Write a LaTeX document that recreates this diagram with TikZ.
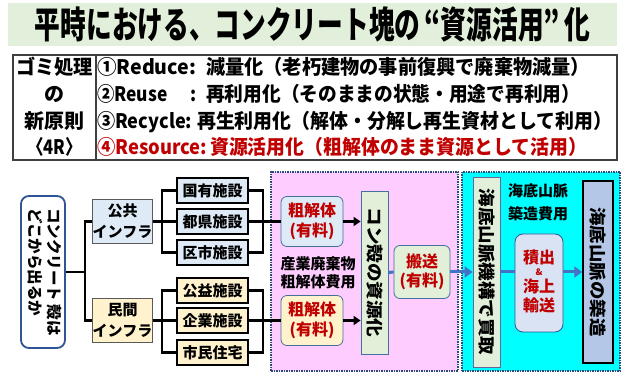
\documentclass[tikz,border=0pt]{standalone}
\usepackage{fontspec}
\setmainfont{Noto Sans CJK JP}
\usetikzlibrary{arrows.meta}
\newcommand{\fitto}[2]{\resizebox{#1}{\height}{#2}}
\definecolor{titlegreen}{HTML}{E2EFDA}
\definecolor{lblue}{HTML}{DEEBF7}
\definecolor{lyellow}{HTML}{FFF2CC}
\definecolor{lgreen}{HTML}{E2F0D9}
\definecolor{pinkbg}{HTML}{FFCCFF}
\definecolor{cyanbg}{HTML}{00FFFF}
\definecolor{darkblue}{HTML}{2F5597}
\definecolor{midblue}{HTML}{4472C4}
\definecolor{bordblue}{HTML}{41719C}
\definecolor{redtxt}{HTML}{C00000}
\definecolor{steel}{HTML}{B4C7E7}
\definecolor{paleblue}{HTML}{DAE3F3}
\definecolor{dotblue}{HTML}{2E4A7D}
\definecolor{tabgray}{HTML}{404040}
\begin{document}
\begin{tikzpicture}[x=1pt,y=-1pt,
  tabtxt/.style={inner sep=0, font=\fontsize{20}{20}\selectfont\bfseries},
  fac/.style={draw=black, line width=1.3pt, minimum width=71pt, minimum height=25pt, inner sep=0, font=\fontsize{15}{15}\selectfont\bfseries},
  infra/.style={draw=gray!70!black, line width=0.8pt, minimum width=53pt, minimum height=44pt, inner sep=0, align=center, font=\fontsize{15}{21}\selectfont\bfseries},
  rbox/.style={rounded corners=6pt, draw=bordblue, line width=0.8pt, inner sep=0, align=center, text=redtxt, font=\fontsize{16}{20}\selectfont\bfseries},
  col/.style={draw=bordblue, line width=0.8pt, inner sep=0, font=\fontsize{17}{17}\selectfont\bfseries},
  region/.style={draw=dotblue, densely dotted, line width=1.5pt, inner sep=0},
  tree/.style={line width=2.6pt, black},
  blkarrow/.style={line width=2.6pt, black, -{Triangle[length=7pt,width=9pt]}},
  bline/.style={line width=3pt, midblue},
  barrow/.style={bline, -{Triangle[length=8pt,width=11pt]}},
  lbl/.style={inner sep=0, align=center, font=\fontsize{15}{18}\selectfont\bfseries}
]
\useasboundingbox (0,0) rectangle (625,374);
\fill[white] (0,0) rectangle (625,374);

% title
\node[fill=titlegreen, minimum width=609pt, minimum height=43pt, inner sep=0,
  font=\fontsize{37}{37}\selectfont\bfseries] (title) at (312.5,25)
  {\fitto{555pt}{平時における、コンクリート塊の\,“資源活用”\,化}};

% table
\node[draw=tabgray, line width=1.2pt, fill=white, minimum width=604pt, minimum height=105pt, inner sep=0] (table) at (315,107.5) {};
\coordinate (dtop) at (96,55);
\coordinate (dbot) at (96,160);
\draw[tabgray, line width=1.2pt] (dtop) -- (dbot);

\node[tabtxt, anchor=base] (l1) at (54.5,74.5) {\fitto{77pt}{ゴミ処理}};
\node[tabtxt, anchor=base] (l2) at (54.5,101.5) {の};
\node[tabtxt, anchor=base] (l3) at (54.5,128.5) {新原則};
\node[tabtxt, anchor=base] (l4) at (54.5,154.5) {\fitto{55pt}{〈4R〉}};

\node[tabtxt, anchor=base west] (p1) at (97,74.5) {\fitto{99pt}{①Reduce:}};
\node[tabtxt, anchor=base west] (t1) at (206,74.5) {\fitto{384pt}{減量化（老朽建物の事前復興で廃棄物減量）}};
\node[tabtxt, anchor=base west] (p2) at (97,101.5) {\fitto{99pt}{②Reuse\hspace{1.3em}:}};
\node[tabtxt, anchor=base west] (t2) at (206,101.5) {\fitto{374pt}{再利用化（そのままの状態・用途で再利用）}};
\node[tabtxt, anchor=base west] (p3) at (97,128.5) {\fitto{95pt}{③Recycle:}};
\node[tabtxt, anchor=base west] (t3) at (197,128.5) {\fitto{415pt}{再生利用化（解体・分解し再生資材として利用）}};
\node[tabtxt, anchor=base west, text=redtxt] (p4) at (97,154.5) {\fitto{110pt}{④Resource:}};
\node[tabtxt, anchor=base west, text=redtxt] (t4) at (210,154.5) {\fitto{377pt}{資源活用化（粗解体のまま資源として活用）}};

% regions
\node[region, fill=pinkbg, minimum width=187pt, minimum height=199pt] (pinkreg) at (364.5,271.5) {};
\node[region, fill=cyanbg, minimum width=158pt, minimum height=199pt] (cyanreg) at (541,271.5) {};

% source
\node[draw=darkblue, line width=1.8pt, rounded corners=8pt, fill=white, minimum width=44pt, minimum height=152pt, inner sep=0,
  font=\fontsize{15.5}{20}\selectfont\bfseries] (src) at (43,272)
  {\rotatebox{-90}{\begin{tabular}{@{}l@{}}コンクリート 殻は\\どこから出るか\end{tabular}}};

\node[infra, fill=lblue] (kokyo) at (122.5,221.5) {公共\\インフラ};
\node[infra, fill=lyellow] (minkan) at (122.5,320.5) {民間\\インフラ};

\node[fac, fill=lblue] (kokuyu) at (212.5,190.5) {国有施設};
\node[fac, fill=lblue] (token) at (212.5,221.5) {都県施設};
\node[fac, fill=lblue] (kushi) at (212.5,252.5) {区市施設};
\node[fac, fill=lyellow] (koeki) at (212.5,290.5) {公益施設};
\node[fac, fill=lyellow] (kigyo) at (212.5,320.5) {企業施設};
\node[fac, fill=lyellow] (shimin) at (212.5,352.5) {市民住宅};

\node[rbox, fill=lblue, minimum width=62pt, minimum height=50pt] (sokai1) at (312,221.5) {粗解体\\(有料)};
\node[rbox, fill=lyellow, minimum width=62pt, minimum height=50pt] (sokai2) at (312,320.5) {粗解体\\(有料)};
\node[lbl] (sangyo) at (318,273) {産業廃棄物\\粗解体費用};

\node[col, fill=lgreen, minimum width=27pt, minimum height=163pt] (kon) at (374.5,272.5)
  {\rotatebox{-90}{\fitto{130pt}{コン殻の資源化}}};
\node[rbox, fill=lgreen, minimum width=56pt, minimum height=53pt, font=\fontsize{16}{19}\selectfont\bfseries] (hanso) at (422,272) {搬送\\(有料)};

\node[col, draw=gray!80!blue, fill=titlegreen, minimum width=27pt, minimum height=190pt] (kaitori) at (486.5,272)
  {\rotatebox{-90}{\fitto{167pt}{海底山脈機構で買取}}};
\node[lbl, font=\fontsize{15}{23}\selectfont\bfseries] (hiyo) at (538,202) {海底山脈\\築造費用};
\node[rbox, draw=darkblue, fill=paleblue, rounded corners=8pt, minimum width=48pt, minimum height=98pt, font=\fontsize{16}{18}\selectfont\bfseries] (tsumi) at (539,283)
  {\begin{tabular}{@{}c@{}}積出\\[-6pt]{\fontsize{9}{9}\selectfont\&}\\[-2pt]海上\\輸送\end{tabular}};
\node[col, draw=black, line width=1.5pt, fill=steel, minimum width=30pt, minimum height=182pt] (chikuzo) at (598,272)
  {\rotatebox{-90}{\fitto{129pt}{海底山脈の築造}}};

% tree connectors
\coordinate (j1) at (85,272);
\coordinate (j2) at (162,221.5);
\coordinate (j3) at (263,221.5);
\coordinate (j4) at (162,320.5);
\coordinate (j5) at (263,320.5);
\draw[tree] (src.east) -- (j1);
\draw[tree] (kokyo.west) -| (j1) |- (minkan.west);
\draw[tree] (kokyo.east) -- (token.west);
\draw[tree] (kokuyu.west) -| (j2) |- (kushi.west);
\draw[tree] (kokuyu.east) -| (j3) |- (kushi.east);
\draw[tree] (token.east) -- (sokai1.west);
\draw[tree] (minkan.east) -- (kigyo.west);
\draw[tree] (koeki.west) -| (j4) |- (shimin.west);
\draw[tree] (koeki.east) -| (j5) |- (shimin.east);
\draw[tree] (kigyo.east) -- (sokai2.west);

\draw[blkarrow] (sokai1.east) -- (sokai1.east -| kon.west);
\draw[blkarrow] (sokai2.east) -- (sokai2.east -| kon.west);

\draw[bline] (kon.east) -- (hanso.west);
\draw[barrow] (hanso.east) -- (kaitori.west);
\draw[bline] (kaitori.east) -- (kaitori.east -| tsumi.west);
\draw[barrow] (kaitori.east -| tsumi.east) -- (chikuzo.west);
\end{tikzpicture}
\end{document}
